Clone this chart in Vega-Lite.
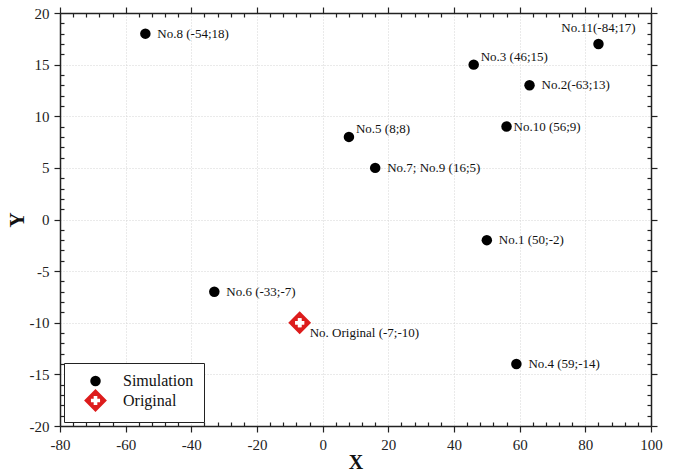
{
  "$schema": "https://vega.github.io/schema/vega-lite/v6.json",
  "width": 591,
  "height": 413,
  "autosize": "none",
  "padding": {"left": 60, "top": 13, "right": 25, "bottom": 48},
  "background": "white",
  "config": {
    "view": {"stroke": null},
    "font": "Liberation Serif",
    "text": {"font": "Liberation Serif"}
  },
  "data": {
    "values": [
      {"label": "No.1 (50;-2)", "x": 50, "y": -2, "type": "Simulation"},
      {"label": "No.2(-63;13)", "x": 63, "y": 13, "type": "Simulation"},
      {"label": "No.3 (46;15)", "x": 46, "y": 15, "type": "Simulation"},
      {"label": "No.4 (59;-14)", "x": 59, "y": -14, "type": "Simulation"},
      {"label": "No.5 (8;8)", "x": 8, "y": 8, "type": "Simulation"},
      {"label": "No.6 (-33;-7)", "x": -33, "y": -7, "type": "Simulation"},
      {"label": "No.7; No.9 (16;5)", "x": 16, "y": 5, "type": "Simulation"},
      {"label": "No.8 (-54;18)", "x": -54, "y": 18, "type": "Simulation"},
      {"label": "No.10 (56;9)", "x": 56, "y": 9, "type": "Simulation"},
      {"label": "No.11(-84;17)", "x": 84, "y": 17, "type": "Simulation"},
      {"label": "No. Original (-7;-10)", "x": -7, "y": -10, "type": "Original"}
    ]
  },
  "resolve": {"axis": {"x": "independent", "y": "independent"}},
  "layer": [
    {
      "mark": {"type": "point", "filled": true, "opacity": 1, "strokeWidth": 0},
      "encoding": {
        "x": {
          "field": "x", "type": "quantitative",
          "scale": {"domain": [-80, 100], "nice": false, "zero": false},
          "axis": {
            "orient": "bottom",
            "values": [-80,-76,-72,-68,-64,-60,-56,-52,-48,-44,-40,-36,-32,-28,-24,-20,-16,-12,-8,-4,0,4,8,12,16,20,24,28,32,36,40,44,48,52,56,60,64,68,72,76,80,84,88,92,96,100],
            "title": "X",
            "titleFont": "Liberation Serif",
            "titleFontSize": 20,
            "titleFontWeight": "bold",
            "titleColor": "#111",
            "titlePadding": 0,
            "labelExpr": "datum.value % 20 === 0 ? '' + datum.value : ''",
            "labelFlush": false,
            "labelOverlap": false,
            "labelFont": "Liberation Serif",
            "labelFontSize": 15,
            "labelColor": "#222",
            "labelPadding": 5,
            "tickSize": {"condition": {"test": "datum.value % 20 === 0", "value": 6}, "value": -4},
            "tickColor": "#222",
            "tickWidth": 1.2,
            "domainColor": "#222",
            "domainWidth": 1.5,
            "grid": true,
            "gridColor": "#d4d4d4",
            "gridDash": [1, 2],
            "gridWidth": 1,
            "gridOpacity": {"condition": {"test": "datum.value % 20 === 0", "value": 1}, "value": 0}
          }
        },
        "y": {
          "field": "y", "type": "quantitative",
          "scale": {"domain": [-20, 20], "nice": false, "zero": false},
          "axis": {
            "orient": "left",
            "values": [-20,-19,-18,-17,-16,-15,-14,-13,-12,-11,-10,-9,-8,-7,-6,-5,-4,-3,-2,-1,0,1,2,3,4,5,6,7,8,9,10,11,12,13,14,15,16,17,18,19,20],
            "title": "Y",
            "titleFont": "Liberation Serif",
            "titleFontSize": 21,
            "titleFontWeight": "bold",
            "titleColor": "#111",
            "titlePadding": 2,
            "labelExpr": "datum.value % 5 === 0 ? '' + datum.value : ''",
            "labelFlush": false,
            "labelOverlap": false,
            "labelFont": "Liberation Serif",
            "labelFontSize": 15,
            "labelColor": "#222",
            "labelPadding": 5,
            "tickSize": {"condition": {"test": "datum.value % 5 === 0", "value": 6}, "value": -4},
            "tickColor": "#222",
            "tickWidth": 1.2,
            "domainColor": "#222",
            "domainWidth": 1.5,
            "grid": true,
            "gridColor": "#d4d4d4",
            "gridDash": [1, 2],
            "gridWidth": 1,
            "gridOpacity": {"condition": {"test": "datum.value % 5 === 0", "value": 1}, "value": 0}
          }
        },
        "color": {
          "field": "type", "type": "nominal",
          "scale": {"domain": ["Simulation", "Original"], "range": ["#000000", "#dd1c1c"]},
          "legend": {"title": null, "orient": "bottom-left", "offset": 4, "padding": 10, "strokeColor": "#222", "fillColor": "white", "labelFont": "Liberation Serif", "labelFontSize": 16, "labelColor": "#111", "symbolOffset": 10, "labelOffset": 16, "rowPadding": 0, "symbolStrokeWidth": 0, "symbolOpacity": 1}
        },
        "shape": {
          "field": "type", "type": "nominal",
          "scale": {"domain": ["Simulation", "Original"], "range": ["circle", "M0,-1L1,0L0,1L-1,0Z M-0.16,-0.4L-0.16,-0.16L-0.4,-0.16L-0.4,0.16L-0.16,0.16L-0.16,0.4L0.16,0.4L0.16,0.16L0.4,0.16L0.4,-0.16L0.16,-0.16L0.16,-0.4Z"]},
          "legend": {"title": null, "orient": "bottom-left", "offset": 4, "padding": 10, "strokeColor": "#222", "fillColor": "white", "labelFont": "Liberation Serif", "labelFontSize": 16, "labelColor": "#111", "symbolOffset": 10, "labelOffset": 16, "rowPadding": 0, "symbolStrokeWidth": 0, "symbolOpacity": 1}
        },
        "size": {
          "field": "type", "type": "nominal",
          "scale": {"domain": ["Simulation", "Original"], "range": [110, 520]},
          "legend": {"title": null, "orient": "bottom-left", "offset": 4, "padding": 10, "strokeColor": "#222", "fillColor": "white", "labelFont": "Liberation Serif", "labelFontSize": 16, "labelColor": "#111", "symbolOffset": 10, "labelOffset": 16, "rowPadding": 0, "symbolStrokeWidth": 0, "symbolOpacity": 1}
        }
      }
    },
    {
      "transform": [{"filter": "datum.type === 'Original'"}],
      "mark": {"type": "point", "shape": "cross", "filled": true, "opacity": 1, "color": "white", "size": 81, "strokeWidth": 0},
      "encoding": {
        "x": {
          "field": "x", "type": "quantitative",
          "axis": {
            "orient": "top",
            "values": [-80,-76,-72,-68,-64,-60,-56,-52,-48,-44,-40,-36,-32,-28,-24,-20,-16,-12,-8,-4,0,4,8,12,16,20,24,28,32,36,40,44,48,52,56,60,64,68,72,76,80,84,88,92,96,100],
            "title": null,
            "labels": false,
            "grid": false,
            "tickSize": {"condition": {"test": "datum.value % 20 === 0", "value": 6}, "value": -4},
            "tickColor": "#222",
            "tickWidth": 1.2,
            "domainColor": "#222",
            "domainWidth": 1.5
          }
        },
        "y": {
          "field": "y", "type": "quantitative",
          "axis": {
            "orient": "right",
            "values": [-20,-19,-18,-17,-16,-15,-14,-13,-12,-11,-10,-9,-8,-7,-6,-5,-4,-3,-2,-1,0,1,2,3,4,5,6,7,8,9,10,11,12,13,14,15,16,17,18,19,20],
            "title": null,
            "labels": false,
            "grid": false,
            "tickSize": {"condition": {"test": "datum.value % 5 === 0", "value": 6}, "value": -4},
            "tickColor": "#222",
            "tickWidth": 1.2,
            "domainColor": "#222",
            "domainWidth": 1.5
          }
        }
      }
    },
    {
      "transform": [{"filter": "indexof(['No.11(-84;17)', 'No.3 (46;15)', 'No.5 (8;8)', 'No.10 (56;9)', 'No. Original (-7;-10)'], datum.label) < 0"}],
      "mark": {"type": "text", "align": "left", "baseline": "middle", "dx": 12, "fontSize": 13, "color": "#111", "font": "Liberation Serif"},
      "encoding": {
        "x": {"field": "x", "type": "quantitative", "axis": null},
        "y": {"field": "y", "type": "quantitative", "axis": null},
        "text": {"field": "label"}
      }
    },
    {
      "transform": [{"filter": "datum.label === 'No.11(-84;17)'"}],
      "mark": {"type": "text", "align": "center", "baseline": "middle", "dy": -16, "fontSize": 13, "color": "#111", "font": "Liberation Serif"},
      "encoding": {
        "x": {"field": "x", "type": "quantitative", "axis": null},
        "y": {"field": "y", "type": "quantitative", "axis": null},
        "text": {"field": "label"}
      }
    },
    {
      "transform": [{"filter": "datum.label === 'No.3 (46;15)' || datum.label === 'No.5 (8;8)'"}],
      "mark": {"type": "text", "align": "left", "baseline": "middle", "dx": 7, "dy": -8, "fontSize": 13, "color": "#111", "font": "Liberation Serif"},
      "encoding": {
        "x": {"field": "x", "type": "quantitative", "axis": null},
        "y": {"field": "y", "type": "quantitative", "axis": null},
        "text": {"field": "label"}
      }
    },
    {
      "transform": [{"filter": "datum.label === 'No.10 (56;9)'"}],
      "mark": {"type": "text", "align": "left", "baseline": "middle", "dx": 7, "fontSize": 13, "color": "#111", "font": "Liberation Serif"},
      "encoding": {
        "x": {"field": "x", "type": "quantitative", "axis": null},
        "y": {"field": "y", "type": "quantitative", "axis": null},
        "text": {"field": "label"}
      }
    },
    {
      "transform": [{"filter": "datum.type === 'Original'"}],
      "mark": {"type": "text", "align": "left", "baseline": "middle", "dx": 10, "dy": 10, "fontSize": 13, "color": "#111", "font": "Liberation Serif"},
      "encoding": {
        "x": {"field": "x", "type": "quantitative", "axis": null},
        "y": {"field": "y", "type": "quantitative", "axis": null},
        "text": {"field": "label"}
      }
    }
  ]
}
